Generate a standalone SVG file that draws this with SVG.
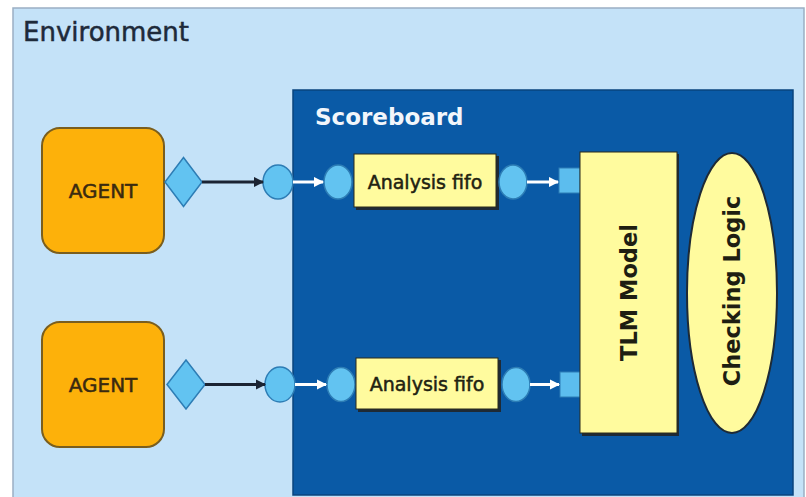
<svg xmlns="http://www.w3.org/2000/svg" width="806" height="497" viewBox="0 0 806 497">
<defs>
<marker id="darkHead" viewBox="0 0 10 10" refX="9" refY="5" markerWidth="3.5" markerHeight="3.5" orient="auto" markerUnits="strokeWidth"><path d="M0,0 L10,5 L0,10 z" fill="#1b2433"/></marker>
<marker id="whiteHead" viewBox="0 0 10 10" refX="9" refY="5" markerWidth="3.5" markerHeight="3.5" orient="auto" markerUnits="strokeWidth"><path d="M0,0 L10,5 L0,10 z" fill="#ffffff"/></marker>
</defs>
<style>
.env{fill:#c4e2f8;stroke:#9aafc3;stroke-width:1.5}
.sb{fill:#0a5aa6;stroke:#08447e;stroke-width:1.5}
.agent{fill:#fdb10a;stroke:#7a5e1e;stroke-width:2}
.port{fill:#62c3f1;stroke:#2d7db5;stroke-width:1.5}
.sq{fill:#5cbdee;stroke:#2d7db5;stroke-width:1}
.yel{fill:#fffb9e;stroke:#2a2a1a;stroke-width:1}
.shadow{fill:#1e2a36}
.dark{stroke:#1b2433;stroke-width:3;fill:none}
.white{stroke:#ffffff;stroke-width:3;fill:none}
text{font-family:"DejaVu Sans","Verdana",sans-serif}
.lbl{fill:#3a2a10;font-size:20px;stroke:#3a2a10;stroke-width:0.5}
.fifo{fill:#222211;font-size:19px;stroke:#222211;stroke-width:0.5}
.bold{fill:#1e1e12;font-size:22.5px;font-weight:bold}
</style>
<rect width="806" height="497" fill="#ffffff"/>
<g id="environment">
<rect class="env" x="13" y="8" width="791" height="490"/>
<text x="23" y="41" font-size="26" fill="#1e2a3a" stroke="#1e2a3a" stroke-width="0.5">Environment</text>
</g>
<g id="scoreboard">
<rect class="sb" x="293" y="90" width="500" height="405"/>
<text x="315" y="125" font-size="23" font-weight="bold" fill="#f2f6fb">Scoreboard</text>
</g>
<g id="agent1">
<rect class="agent" x="42" y="128" width="122" height="125" rx="18"/>
<text class="lbl" x="103" y="197.5" text-anchor="middle">AGENT</text>
</g>
<g id="agent2">
<rect class="agent" x="42" y="322" width="122" height="125" rx="18"/>
<text class="lbl" x="103" y="391.5" text-anchor="middle">AGENT</text>
</g>
<g id="export1"><polygon class="port" points="183.5,157.5 202,182 183.5,206.5 165,182"/></g>
<g id="export2"><polygon class="port" points="186,360 205,384.5 186,409 167,384.5"/></g>
<g id="import1"><ellipse class="port" cx="278" cy="182" rx="15" ry="17"/></g>
<g id="import2"><ellipse class="port" cx="280" cy="384.5" rx="15" ry="17.5"/></g>
<g id="fifo1">
<ellipse class="port" cx="338" cy="182" rx="14" ry="17"/>
<rect class="shadow" x="356" y="156" width="143" height="54"/>
<rect class="yel" x="354" y="154" width="142" height="53"/>
<ellipse class="port" cx="513" cy="182" rx="14" ry="17"/>
<text class="fifo" x="425" y="189" text-anchor="middle">Analysis fifo</text>
</g>
<g id="fifo2">
<ellipse class="port" cx="341" cy="384.5" rx="14" ry="17"/>
<rect class="shadow" x="358" y="360" width="143" height="52"/>
<rect class="yel" x="356" y="358" width="142" height="51"/>
<ellipse class="port" cx="516" cy="384.5" rx="14" ry="17"/>
<text class="fifo" x="427" y="391" text-anchor="middle">Analysis fifo</text>
</g>
<g id="tlm_model">
<rect class="sq" x="559" y="168" width="21" height="25"/>
<rect class="sq" x="560" y="372" width="20" height="25"/>
<rect class="shadow" x="582" y="154" width="97" height="282"/>
<rect class="yel" x="580" y="152" width="97" height="281"/>
<text class="bold" transform="translate(637,292.5) rotate(-90)" text-anchor="middle">TLM Model</text>
</g>
<g id="checking_logic">
<ellipse cx="732" cy="293" rx="45" ry="140" fill="#fffb9e" stroke="#1e2a36" stroke-width="2"/>
<text class="bold" transform="translate(740,291) rotate(-90)" text-anchor="middle">Checking Logic</text>
</g>
<g id="connectors">
<line class="dark" x1="202" y1="182" x2="263" y2="182" marker-end="url(#darkHead)"/>
<line class="dark" x1="205" y1="384.5" x2="265" y2="384.5" marker-end="url(#darkHead)"/>
<line class="white" x1="293" y1="182" x2="323" y2="182" marker-end="url(#whiteHead)"/>
<line class="white" x1="295" y1="384.5" x2="326" y2="384.5" marker-end="url(#whiteHead)"/>
<line class="white" x1="527" y1="182" x2="558" y2="182" marker-end="url(#whiteHead)"/>
<line class="white" x1="530" y1="384.5" x2="559" y2="384.5" marker-end="url(#whiteHead)"/>
</g>
</svg>
